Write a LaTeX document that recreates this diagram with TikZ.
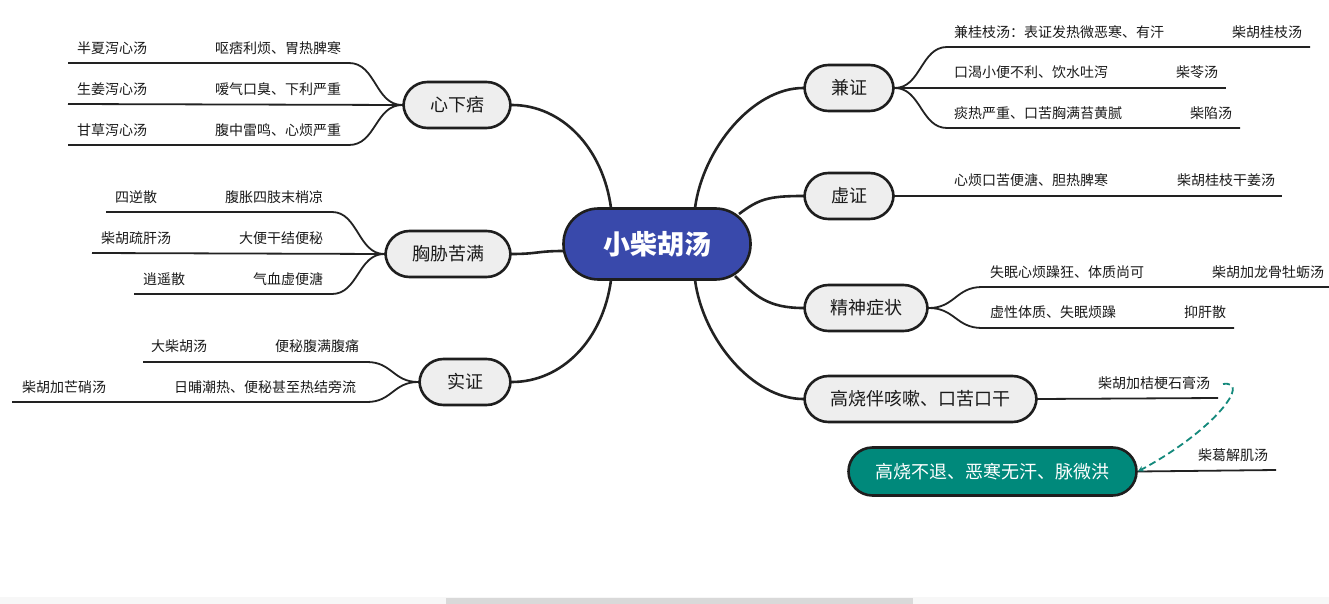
\documentclass[tikz,border=0pt]{standalone}
\usepackage{fontspec}
\setmainfont{Noto Sans CJK SC}
\usetikzlibrary{arrows.meta}
\definecolor{boxfill}{HTML}{EEEEEE}
\definecolor{boxline}{HTML}{1E1E1E}
\definecolor{linecol}{HTML}{222222}
\definecolor{rootblue}{HTML}{3949AB}
\definecolor{tealfill}{HTML}{00897B}
\definecolor{tealdash}{HTML}{14897C}
\definecolor{txtcol}{HTML}{1A1A1A}
\tikzset{
  topic/.style={draw=boxline, line width=2.6pt, fill=boxfill, rounded corners=24pt,
    minimum height=46pt, inner sep=0pt, font=\fontsize{18}{20}\selectfont, text=txtcol},
  rootbox/.style={draw=boxline, line width=2.6pt, fill=rootblue, rounded corners=35pt,
    minimum width=187pt, minimum height=71pt, inner sep=0pt,
    font=\fontsize{27}{30}\selectfont\bfseries, text=white},
  floatbox/.style={draw=boxline, line width=2.6pt, fill=tealfill, rounded corners=24pt,
    minimum height=48pt, inner sep=0pt, font=\fontsize{18}{20}\selectfont, text=white},
  leaf/.style={anchor=west, inner sep=0pt, font=\fontsize{14}{16}\selectfont, text=txtcol},
  mainline/.style={draw=linecol, line width=2.6pt},
  subline/.style={draw=linecol, line width=1.8pt},
}
\begin{document}
\begin{tikzpicture}[x=1pt,y=-1pt]
\fill[white] (0,0) rectangle (1329,604);
\useasboundingbox (0,0) rectangle (1329,604);
% scrollbar strip
\fill[gray!6] (0,597) rectangle (1329,604);
\fill[gray!30] (446,598) rectangle (913,604);

% main topics
\node[rootbox] (root) at (657,244) {小柴胡汤};
\node[topic, minimum width=107pt] (xxp) at (457,105) {心下痞};
\node[topic, minimum width=125pt] (xxkm) at (448,254) {胸胁苦满};
\node[topic, minimum width=91pt] (sz) at (465,382) {实证};
\node[topic, minimum width=89pt] (jz) at (849,88) {兼证};
\node[topic, minimum width=89pt] (xz) at (849,196) {虚证};
\node[topic, minimum width=123pt] (jszz) at (866,308) {精神症状};
\node[topic, minimum width=232pt] (gs) at (920.5,399) {高烧伴咳嗽、口苦口干};
\node[floatbox, minimum width=288pt] (teal) at (992.5,471.5) {高烧不退、恶寒无汗、脉微洪};

% attachment points on root
\coordinate (rtl) at (611,208);
\coordinate (rl) at (563,251);
\coordinate (rbl) at (611,280);
\coordinate (rtr) at (695,208);
\coordinate (rr1) at (739,214);
\coordinate (rr2) at (735,276);
\coordinate (rbr) at (695,280);

\begin{scope}[on background layer/.style={}]
\end{scope}

% main branches
\draw[mainline] (rtl) .. controls +(-8,-60) and +(50,0) .. (xxp.east);
\draw[mainline] (rl) .. controls +(-25,0) and +(25,0) .. (xxkm.east);
\draw[mainline] (rbl) .. controls +(-8,60) and +(50,0) .. (sz.east);
\draw[mainline] (rtr) .. controls +(8,-60) and +(-50,0) .. (jz.west);
\draw[mainline] (rr1) .. controls +(20,-15) and +(-35,0) .. (xz.west);
\draw[mainline] (rr2) .. controls +(20,20) and +(-35,0) .. (jszz.west);
\draw[mainline] (rbr) .. controls +(8,60) and +(-50,0) .. (gs.west);

% ---- 心下痞 children
\coordinate (a1s) at (349,63); \coordinate (a1e) at (68,63);
\coordinate (a2e) at (68,104);
\coordinate (a3s) at (349,145); \coordinate (a3e) at (68,145);
\draw[subline] (xxp.west) .. controls +(-27,0) and +(27,0) .. (a1s) -- (a1e);
\draw[subline] (xxp.west) -- (a2e);
\draw[subline] (xxp.west) .. controls +(-27,0) and +(27,0) .. (a3s) -- (a3e);
\node[leaf] (a1l) at (77,48) {半夏泻心汤};
\node[leaf] (a1r) at (215,48) {呕痞利烦、胃热脾寒};
\node[leaf] (a2l) at (77,89) {生姜泻心汤};
\node[leaf] (a2r) at (215,89) {嗳气口臭、下利严重};
\node[leaf] (a3l) at (77,130) {甘草泻心汤};
\node[leaf] (a3r) at (215,130) {腹中雷鸣、心烦严重};

% ---- 胸胁苦满 children
\coordinate (b1s) at (332,212); \coordinate (b1e) at (106,212);
\coordinate (b2e) at (92,253);
\coordinate (b3s) at (332,294); \coordinate (b3e) at (134,294);
\draw[subline] (xxkm.west) .. controls +(-26,0) and +(26,0) .. (b1s) -- (b1e);
\draw[subline] (xxkm.west) -- (b2e);
\draw[subline] (xxkm.west) .. controls +(-26,0) and +(26,0) .. (b3s) -- (b3e);
\node[leaf] (b1l) at (115,197) {四逆散};
\node[leaf] (b1r) at (225,197) {腹胀四肢末梢凉};
\node[leaf] (b2l) at (101,238) {柴胡疏肝汤};
\node[leaf] (b2r) at (239,238) {大便干结便秘};
\node[leaf] (b3l) at (143,279) {逍遥散};
\node[leaf] (b3r) at (253,279) {气血虚便溏};

% ---- 实证 children
\coordinate (c1s) at (367,362); \coordinate (c1e) at (143,362);
\coordinate (c2s) at (367,402); \coordinate (c2e) at (12,402);
\draw[subline] (sz.west) .. controls +(-25,0) and +(25,0) .. (c1s) -- (c1e);
\draw[subline] (sz.west) .. controls +(-25,0) and +(25,0) .. (c2s) -- (c2e);
\node[leaf] (c1l) at (151,346) {大柴胡汤};
\node[leaf] (c1r) at (275,346) {便秘腹满腹痛};
\node[leaf] (c2l) at (22,387) {柴胡加芒硝汤};
\node[leaf] (c2r) at (174,387) {日晡潮热、便秘甚至热结旁流};

% ---- 兼证 children
\coordinate (d1s) at (947,47); \coordinate (d1e) at (1310,47);
\coordinate (d2e) at (1226,88);
\coordinate (d3s) at (947,128); \coordinate (d3e) at (1240,128);
\draw[subline] (jz.east) .. controls +(26,0) and +(-26,0) .. (d1s) -- (d1e);
\draw[subline] (jz.east) -- (d2e);
\draw[subline] (jz.east) .. controls +(26,0) and +(-26,0) .. (d3s) -- (d3e);
\node[leaf] (d1l) at (954,32) {兼桂枝汤：表证发热微恶寒、有汗};
\node[leaf] (d1r) at (1232,32) {柴胡桂枝汤};
\node[leaf] (d2l) at (954,72) {口渴小便不利、饮水吐泻};
\node[leaf] (d2r) at (1176,72) {柴苓汤};
\node[leaf] (d3l) at (954,113) {痰热严重、口苦胸满苔黄腻};
\node[leaf] (d3r) at (1190,113) {柴陷汤};

% ---- 虚证 child
\coordinate (e1e) at (1282,196);
\draw[subline] (xz.east) -- (e1e);
\node[leaf] (e1l) at (954,180) {心烦口苦便溏、胆热脾寒};
\node[leaf] (e1r) at (1177,180) {柴胡桂枝干姜汤};

% ---- 精神症状 children
\coordinate (f1s) at (982,287); \coordinate (f1e) at (1329,287);
\coordinate (f2s) at (982,328); \coordinate (f2e) at (1234,328);
\draw[subline] (jszz.east) .. controls +(26,0) and +(-26,0) .. (f1s) -- (f1e);
\draw[subline] (jszz.east) .. controls +(26,0) and +(-26,0) .. (f2s) -- (f2e);
\node[leaf] (f1l) at (990,272) {失眠心烦躁狂、体质尚可};
\node[leaf] (f1r) at (1212,272) {柴胡加龙骨牡蛎汤};
\node[leaf] (f2l) at (990,312) {虚性体质、失眠烦躁};
\node[leaf] (f2r) at (1184,312) {抑肝散};

% ---- 高烧伴咳嗽 child
\coordinate (g1e) at (1218,398);
\draw[subline] (gs.east) -- (g1e);
\node[leaf] (g1) at (1098,383) {柴胡加桔梗石膏汤};

% ---- teal child
\coordinate (h1e) at (1276,470);
\draw[subline] (teal.east) -- (h1e);
\node[leaf] (h1) at (1198,455) {柴葛解肌汤};

% dashed relation
\coordinate (relS) at (1223,384);
\draw[draw=tealdash, line width=1.8pt, dash pattern=on 7pt off 4pt, -{Stealth[length=6pt,width=6pt]}]
  (relS) .. controls (1252,380) and (1215,430) .. (teal.east);
\end{tikzpicture}
\end{document}
